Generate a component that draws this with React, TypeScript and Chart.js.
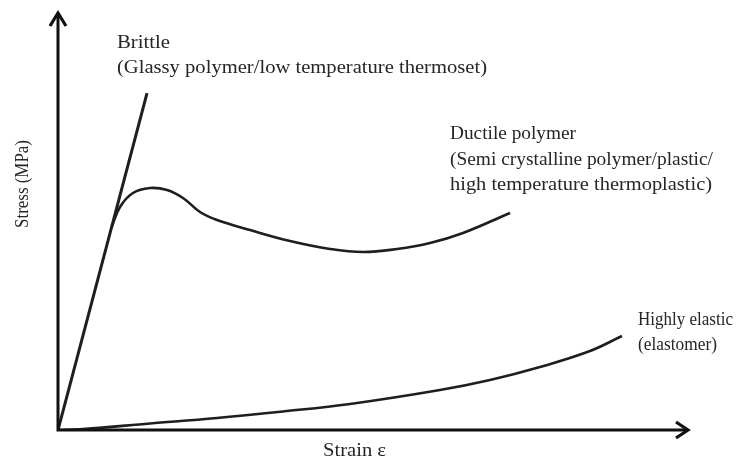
import React, { useEffect, useRef } from "react";
import { Chart, registerables } from "chart.js";
Chart.register(...registerables);

// ---- data (schematic strain / stress, arbitrary units 0..100) ----
const brittleStrain = [0, 14.13];
const brittleStress = [0, 80.8];

// ductile curve follows the brittle line from the origin, then yields
const ductileStrain = [8.5, 9.84, 11.9, 14.6, 17.3, 19.84, 22.54, 25.24, 30.48, 36.83, 43.17, 48.41, 53.81, 59.05, 64.29, 71.75];
const ductileStress = [48.6, 53.48, 56.83, 58.03, 57.55, 55.64, 52.28, 50.36, 47.96, 45.32, 43.41, 42.69, 43.41, 44.84, 47.24, 52.04];

const elasticStrain = [0, 3.97, 14.6, 25.24, 35.71, 46.35, 60.63, 68.57, 76.51, 84.44, 89.52];
const elasticStress = [0, 0.24, 1.56, 2.88, 4.44, 6.24, 9.59, 11.99, 15.11, 18.94, 22.54];

const brittleLabel = ["Brittle", "(Glassy polymer/low temperature thermoset)"];
const ductileLabel = ["Ductile polymer", "(Semi crystalline polymer/plastic/", "high temperature thermoplastic)"];
const elasticLabel = ["Highly elastic", "(elastomer)"];
const xAxisTitle = "Strain ε";
const yAxisTitle = "Stress (MPa)";

const INK = "#1e1e1e";
const FONT = '19px "Liberation Serif", "DejaVu Serif", serif';

function zip(xs: number[], ys: number[]) {
  return xs.map((x, i) => ({ x, y: ys[i] }));
}

function fitText(ctx: CanvasRenderingContext2D, text: string, x: number, y: number, width: number, rotate = 0) {
  ctx.save();
  ctx.font = FONT;
  ctx.fillStyle = "#262626";
  ctx.textBaseline = "middle";
  ctx.textAlign = "left";
  const w = ctx.measureText(text).width;
  ctx.translate(x, y);
  if (rotate) ctx.rotate(rotate);
  ctx.scale(width / w, 1);
  ctx.fillText(text, 0, 0);
  ctx.restore();
}

const decorPlugin = {
  id: "decor",
  afterDatasetsDraw(chart: any) {
    const ctx: CanvasRenderingContext2D = chart.ctx;
    const xs = chart.scales.x;
    const ys = chart.scales.y;
    const x0 = xs.getPixelForValue(0);
    const y0 = ys.getPixelForValue(0);
    const xEnd = xs.getPixelForValue(100);
    const yEnd = ys.getPixelForValue(100);

    ctx.save();
    ctx.strokeStyle = "#111";
    ctx.lineWidth = 3;
    ctx.lineCap = "butt";
    ctx.lineJoin = "miter";
    // axes
    ctx.beginPath();
    ctx.moveTo(x0, y0 + 1.5);
    ctx.lineTo(x0, yEnd + 1);
    ctx.moveTo(x0 - 1.5, y0);
    ctx.lineTo(xEnd - 1, y0);
    ctx.stroke();
    // arrow heads
    ctx.lineWidth = 3.2;
    ctx.beginPath();
    ctx.moveTo(x0 - 8, yEnd + 13);
    ctx.lineTo(x0, yEnd);
    ctx.lineTo(x0 + 8, yEnd + 13);
    ctx.moveTo(xEnd - 12, y0 - 8);
    ctx.lineTo(xEnd, y0);
    ctx.lineTo(xEnd - 12, y0 + 8);
    ctx.stroke();
    ctx.restore();

    // curve labels
    fitText(ctx, brittleLabel[0], 117, 43, 53);
    fitText(ctx, brittleLabel[1], 117, 68, 370);
    fitText(ctx, ductileLabel[0], 450, 134, 126);
    fitText(ctx, ductileLabel[1], 450, 160, 263);
    fitText(ctx, ductileLabel[2], 450, 185, 262);
    fitText(ctx, elasticLabel[0], 638, 320, 95);
    fitText(ctx, elasticLabel[1], 638, 345, 79);

    // axis titles
    fitText(ctx, xAxisTitle, 323, 451, 63);
    fitText(ctx, yAxisTitle, 23, 228, 88, -Math.PI / 2);
  },
};

export default function App() {
  const ref = useRef<HTMLCanvasElement>(null);
  useEffect(() => {
    if (!ref.current) return;
    const line = {
      borderColor: INK,
      borderWidth: 2.6,
      pointRadius: 0,
      fill: false,
      showLine: true,
    };
    const chart = new Chart(ref.current, {
      type: "scatter",
      data: {
        datasets: [
          { ...line, label: "Brittle", data: zip(brittleStrain, brittleStress), borderWidth: 3 },
          { ...line, label: "Ductile polymer", data: zip(ductileStrain, ductileStress), tension: 0.4 },
          { ...line, label: "Highly elastic", data: zip(elasticStrain, elasticStress), tension: 0.4 },
        ] as any,
      },
      options: {
        animation: false,
        responsive: false,
        devicePixelRatio: 1,
        layout: { padding: { left: 58, right: 63, top: 13, bottom: 30 } },
        scales: {
          x: { type: "linear", min: 0, max: 100, display: false },
          y: { type: "linear", min: 0, max: 100, display: false },
        },
        plugins: { legend: { display: false }, tooltip: { enabled: false } },
        events: [],
      },
      plugins: [decorPlugin],
    });
    return () => chart.destroy();
  }, []);
  return (
    <div style={{ position: "absolute", left: 0, top: 0, width: 751, height: 460, background: "#fff" }}>
      <canvas ref={ref} width={751} height={460} style={{ display: "block" }} />
    </div>
  );
}
